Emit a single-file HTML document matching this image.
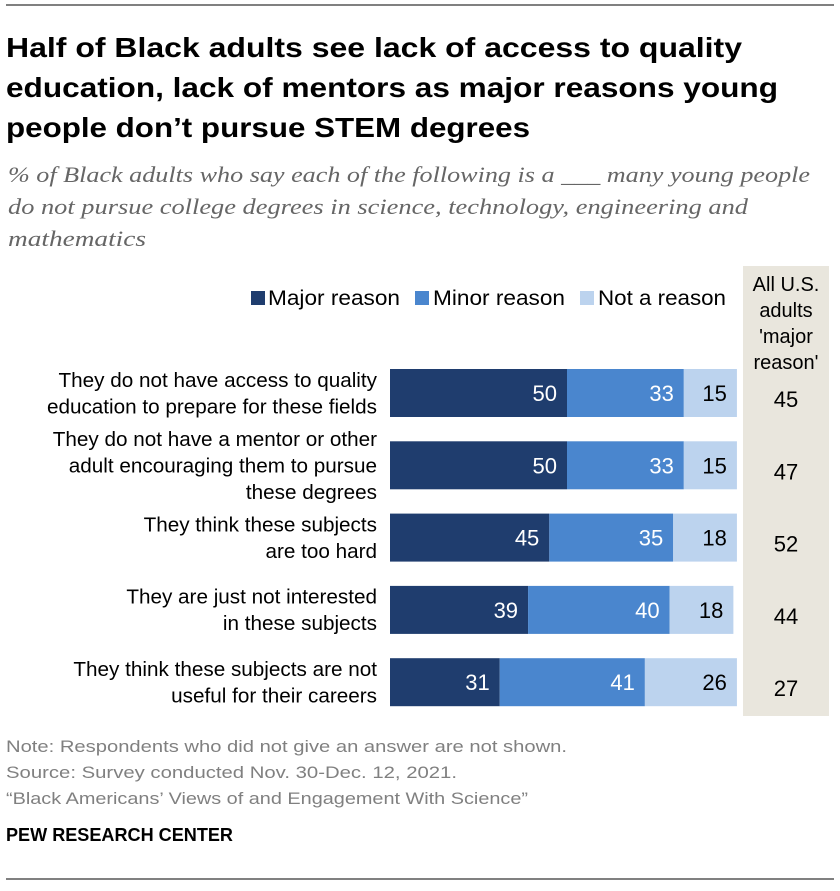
<!DOCTYPE html>
<html><head><meta charset="utf-8"><style>
body{margin:0;background:#fff;}
svg text{font-family:"Liberation Sans",sans-serif;}
</style></head><body>
<svg width="840" height="886" viewBox="0 0 840 886" xmlns="http://www.w3.org/2000/svg">
<line x1="6" y1="5" x2="834" y2="5" stroke="#000" stroke-width="1"/>
<g font-size="28" font-weight="bold" fill="#000">
<text x="6" y="57" textLength="736" lengthAdjust="spacingAndGlyphs">Half of Black adults see lack of access to quality</text>
<text x="6" y="97" textLength="772" lengthAdjust="spacingAndGlyphs">education, lack of mentors as major reasons young</text>
<text x="6" y="137" textLength="524" lengthAdjust="spacingAndGlyphs">people don’t pursue STEM degrees</text>
</g>
<g font-size="22" font-style="italic" fill="#666">
<text x="8" y="182" textLength="802" lengthAdjust="spacingAndGlyphs" style="font-family:'Liberation Serif',serif">% of Black adults who say each of the following is a ___ many young people</text>
<text x="8" y="214" textLength="740" lengthAdjust="spacingAndGlyphs" style="font-family:'Liberation Serif',serif">do not pursue college degrees in science, technology, engineering and</text>
<text x="8" y="246" textLength="138" lengthAdjust="spacingAndGlyphs" style="font-family:'Liberation Serif',serif">mathematics</text>
</g>
<rect x="743" y="266" width="86" height="450" fill="#e9e6dd"/>
<g font-size="20" fill="#000" text-anchor="middle">
<text x="786" y="291">All U.S.</text><text x="786" y="317">adults</text><text x="786" y="343">'major</text><text x="786" y="369">reason'</text>
</g>
<g font-size="21" fill="#000">
<rect x="251" y="291" width="14" height="14" fill="#1f3d6e"/>
<text x="268" y="305" textLength="132" lengthAdjust="spacingAndGlyphs">Major reason</text>
<rect x="415" y="291" width="14" height="14" fill="#4a86ce"/>
<text x="433" y="305" textLength="132" lengthAdjust="spacingAndGlyphs">Minor reason</text>
<rect x="580" y="291" width="14" height="14" fill="#bcd3ee"/>
<text x="598" y="305" textLength="128" lengthAdjust="spacingAndGlyphs">Not a reason</text>
</g>
<g id="bars"></g>
<g font-size="17" fill="#808080">
<text x="6" y="752" textLength="561" lengthAdjust="spacingAndGlyphs">Note: Respondents who did not give an answer are not shown.</text>
<text x="6" y="778" textLength="451" lengthAdjust="spacingAndGlyphs">Source: Survey conducted Nov. 30-Dec. 12, 2021.</text>
<text x="6" y="804" textLength="522" lengthAdjust="spacingAndGlyphs">“Black Americans’ Views of and Engagement With Science”</text>
</g>
<text x="6" y="841" font-size="18" font-weight="bold" fill="#000" textLength="227" lengthAdjust="spacingAndGlyphs">PEW RESEARCH CENTER</text>
<line x1="6" y1="879" x2="834" y2="879" stroke="#000" stroke-width="1"/>
</svg>
<script>
const labels=[["They do not have access to quality","education to prepare for these fields"],["They do not have a mentor or other","adult encouraging them to pursue","these degrees"],["They think these subjects","are too hard"],["They are just not interested","in these subjects"],["They think these subjects are not","useful for their careers"]];
const major=[50,50,45,39,31];
const minor=[33,33,35,40,41];
const notReason=[15,15,18,18,26];
const usMajor=[45,47,52,44,27];
const NS="http://www.w3.org/2000/svg";
const g=document.getElementById('bars');
const x0=390, k=3.54, rowTop=369, rowStep=72.3, bh=48;
const xs=v=>v*k;
function mk(t,a){const e=document.createElementNS(NS,t);for(const n in a)e.setAttribute(n,a[n]);return e;}
for(let i=0;i<major.length;i++){
 const y=rowTop+i*rowStep, cy=y+bh/2;
 const segs=[[major[i],'#1f3d6e','#fff','major'],[minor[i],'#4a86ce','#fff','minor'],[notReason[i],'#bcd3ee','#000','not']];
 let x=x0;
 for(const s of segs){
  const w=xs(s[0]);
  const r=mk('rect',{x:x,y:y,width:w,height:bh,fill:s[1]});
  
  
  g.appendChild(r);
  const t=mk('text',{x:x+w-10,y:cy+8,'font-size':22,fill:s[2],'text-anchor':'end'});
  t.textContent=s[0];
  
  
  g.appendChild(t);
  x+=w;
 }
 const lines=labels[i];
 const lh=26.5;
 const startY=cy+7-(lines.length-1)*lh/2;
 lines.forEach((ln,j)=>{
  const t=mk('text',{x:377,y:startY+j*lh,'font-size':20.7,fill:'#000','text-anchor':'end'});
  t.textContent=ln;
  
  
  g.appendChild(t);
 });
 const u=mk('text',{x:786,y:cy+14,'font-size':22,fill:'#000','text-anchor':'middle'});
 u.textContent=usMajor[i];
 
 
 g.appendChild(u);
}
</script>
</body></html>
